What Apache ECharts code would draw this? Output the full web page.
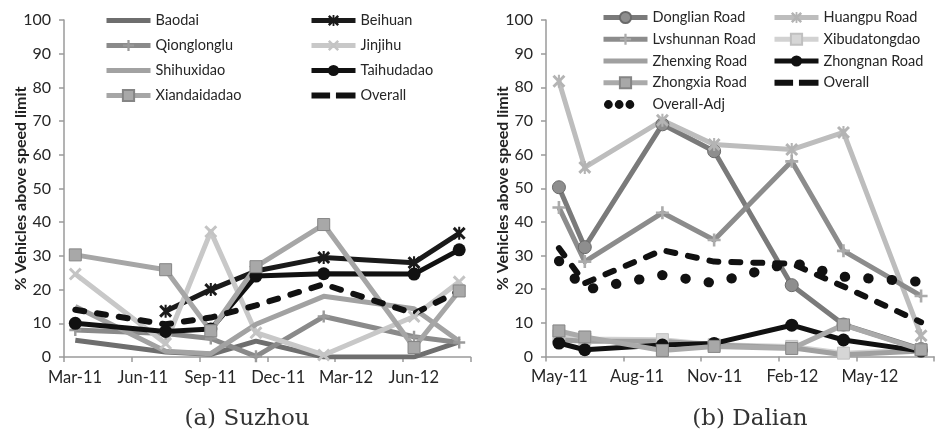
<!DOCTYPE html>
<html><head><meta charset="utf-8">
<script src="https://cdn.jsdelivr.net/npm/echarts@6/dist/echarts.min.js"></script>
<style>html,body{margin:0;padding:0;background:#fff}#c{width:937px;height:441px}</style>
</head><body><div id="c"></div>
<script>
// ---------- Suzhou (a) ----------
const suzhouBase = '2011-03';
const suzhouDates = ['2011-03','2011-07','2011-09','2011-11','2012-02','2012-06','2012-08'];
const suzhouTicks = ['Mar-11','Jun-11','Sep-11','Dec-11','Mar-12','Jun-12'];
const baodai       = [5, 1.5, 0.8, 4.7, 0, 0, 4.5];
const beihuan      = [null, 13.6, 20, 25.5, 29.5, 28, 36.7];
const qionglonglu  = [8, 7, 5.5, 0.2, 12, 6, 4.3];
const jinjihu      = [24.6, 4, 37.2, 7.2, 0.6, 12, 22.3];
const shihuxidao   = [15, 1.7, 1, 9.7, 18, 14.3, 4.7];
const taihudadao   = [10, 7.6, 8.3, 24, 24.7, 24.6, 31.8];
const xiandaidadao = [30.3, 25.9, 7.8, 26.8, 39.3, 2.8, 19.6];
const suzhouOverall= [14, 9.7, 11.7, 15.3, 21.6, 12.9, 19.6];

// ---------- Dalian (b) ----------
const dalianBase = '2011-05';
const dalianDates = ['2011-05','2011-06','2011-09','2011-11','2012-02','2012-04','2012-07'];
const dalianTicks = ['May-11','Aug-11','Nov-11','Feb-12','May-12'];
const donglian      = [50.3, 32.5, 69, 61, 21.2, 9.5, 2.2];
const huangpu       = [81.8, 56.2, 70.2, 63, 61.5, 66.6, 6.2];
const lvshunnan     = [44.3, 28.2, 42.7, 34.6, 58, 31.4, 18];
const xibudatongdao = [6.2, 5.2, 5, 3.5, 3, 1, 2];
const zhenxing      = [5, 4.5, 4.5, 3.4, 2.6, 0.5, 1.6];
const zhongnan      = [4, 2, 3.4, 3.9, 9.3, 4.9, 1.6];
const zhongxia      = [7.6, 5.8, 1.8, 3, 2.4, 9.4, 2];
const dalianOverall = [32.2, 21.8, 31.6, 28.2, 27.6, 20.8, 10.2];
const dalianAdj     = [28.4, 19.8, 24.2, 21.8, 28, 23.7, 22.2];

const yTitle = '% Vehicles above speed limit';

function mIdx(d, base){
  const [y,m] = d.split('-').map(Number);
  const [by,bm] = base.split('-').map(Number);
  return (y-by)*12 + (m-bm) + 0.5;
}
const SYM_X = 'path://M0,1.6L1.6,0L5,3.4L8.4,0L10,1.6L6.6,5L10,8.4L8.4,10L5,6.6L1.6,10L0,8.4L3.4,5Z';
const SYM_STAR = SYM_X + 'M4.2,0H5.8V10H4.2Z';
const SYM_PLUS = 'path://M4,0H6V4H10V6H6V10H4V6H0V4H4Z';
// legend icons (box 45x14 fixed by two tiny corner specks)
const BOX = 'M0,0L0.05,0L0,0.05Z M45,14L44.95,14L45,13.95Z ';
const ICON_LINE = 'path://' + BOX + 'M0,4.5H45V9.5H0Z';
const ICON_DASH = 'path://' + BOX + 'M0,4H19V10H0Z M25,4H45V10H25Z';
const ICON_DOT  = 'path://' + BOX +
  'M0.5,7a4.5,4.5 0 1,0 9,0a4.5,4.5 0 1,0 -9,0Z M11.5,7a4.5,4.5 0 1,0 9,0a4.5,4.5 0 1,0 -9,0Z M22.5,7a4.5,4.5 0 1,0 9,0a4.5,4.5 0 1,0 -9,0Z';

function mk(name, dates, base, vals, gi, o){
  return {
    name, type:'line', xAxisIndex:gi, yAxisIndex:gi,
    data: dates.map((d,i)=>[mIdx(d,base), vals[i]]),
    symbol: o.symbol || 'none', symbolSize: o.size || 12, showSymbol: !!o.symbol,
    lineStyle:{color:o.line, width:o.width||5, type:o.type||'solid', cap:o.cap||'butt', join:'round'},
    itemStyle:{color:o.fill||o.line, borderColor:o.border||o.fill||o.line, borderWidth:o.bw||0},
    connectNulls:false, silent:true, z: o.z || 2
  };
}
const DASH = {type:[9,13], cap:'round', width:6};
const DOT  = {type:[0.5,23], cap:'round', width:10};

const font = 'Lato';
const txt = '#262626';
function xAx(gi, ticks, max){
  return {type:'value', gridIndex:gi, min:0, max:max, interval:3,
    axisLine:{lineStyle:{color:'#9a9a9a', width:1.5}},
    axisTick:{show:true, length:5, lineStyle:{color:'#9a9a9a', width:1.5}},
    splitLine:{show:false},
    axisLabel:{fontFamily:font, fontSize:16.5, color:txt, margin:12, padding:[0,0,0,gi===0?22:27],
      formatter:v=>{const k=Math.round(v/3); return (Math.abs(v-k*3)<1e-6 && ticks[k]!==undefined)? ticks[k] : '';}}
  };
}
function yAx(gi){
  return {type:'value', gridIndex:gi, min:0, max:100, interval:10,
    axisLine:{show:true, lineStyle:{color:'#9a9a9a', width:1.5}},
    axisTick:{show:true, length:5, lineStyle:{color:'#9a9a9a', width:1.5}},
    splitLine:{show:false},
    axisLabel:{fontFamily:font, fontSize:16, color:txt, margin:13},
    name:yTitle, nameLocation:'middle', nameGap:35, nameMoveOverlap:false,
    nameTextStyle:{fontFamily:font, fontSize:16, fontWeight:'bold', color:'#222'}
  };
}
const iconOf = {
  'Baodai':ICON_LINE, 'Shihuxidao':ICON_LINE, 'Zhenxing Road':ICON_LINE,
  'Overall':ICON_DASH, 'Overall-Adj':ICON_DOT
};
function lg(left, top, gap, names, w){
  return {left, top, orient:'vertical', itemWidth:w||44, itemHeight:14, itemGap:gap,
    selectedMode:false, lineStyle:{width:5},
    data: names.map(n => iconOf[n] ? {name:n, icon:iconOf[n]} : {name:n}),
    textStyle:{fontFamily:font, fontSize:14.5, lineHeight:14, color:txt}};
}

const S = suzhouDates, D = dalianDates;
const series = [
  mk('Baodai', S, suzhouBase, baodai, 0, {line:'#6e6e6e'}),
  mk('Beihuan', S, suzhouBase, beihuan, 0, {line:'#1a1a1a', symbol:SYM_STAR, size:13}),
  mk('Qionglonglu', S, suzhouBase, qionglonglu, 0, {line:'#8a8a8a', symbol:SYM_PLUS, size:12, fill:'#9a9a9a'}),
  mk('Jinjihu', S, suzhouBase, jinjihu, 0, {line:'#c8c8c8', symbol:SYM_X, size:13, fill:'#c4c4c4'}),
  mk('Shihuxidao', S, suzhouBase, shihuxidao, 0, {line:'#a2a2a2'}),
  mk('Taihudadao', S, suzhouBase, taihudadao, 0, {line:'#111', symbol:'circle', size:13}),
  mk('Xiandaidadao', S, suzhouBase, xiandaidadao, 0, {line:'#a6a6a6', symbol:'rect', size:12, fill:'#a8a8a8', border:'#858585', bw:1}),
  mk('Overall', S, suzhouBase, suzhouOverall, 0, Object.assign({line:'#111'}, DASH)),

  mk('Donglian Road', D, dalianBase, donglian, 1, {line:'#7a7a7a', symbol:'circle', size:13, fill:'#8e8e8e', border:'#6a6a6a', bw:1}),
  mk('Huangpu Road', D, dalianBase, huangpu, 1, {line:'#bdbdbd', symbol:SYM_STAR, size:13, fill:'#b4b4b4'}),
  mk('Lvshunnan Road', D, dalianBase, lvshunnan, 1, {line:'#8c8c8c', symbol:SYM_PLUS, size:13, fill:'#ababab'}),
  mk('Xibudatongdao', D, dalianBase, xibudatongdao, 1, {line:'#d2d2d2', symbol:'rect', size:12, fill:'#d6d6d6', border:'#c0c0c0', bw:1}),
  mk('Zhenxing Road', D, dalianBase, zhenxing, 1, {line:'#a0a0a0'}),
  mk('Zhongnan Road', D, dalianBase, zhongnan, 1, {line:'#111', symbol:'circle', size:13}),
  mk('Zhongxia Road', D, dalianBase, zhongxia, 1, {line:'#aaaaaa', symbol:'rect', size:12, fill:'#a8a8a8', border:'#858585', bw:1}),
  mk('Overall', D, dalianBase, dalianOverall, 1, Object.assign({line:'#111'}, DASH)),
  mk('Overall-Adj', D, dalianBase, dalianAdj, 1, Object.assign({line:'#111'}, DOT)),
];

const chart = echarts.init(document.getElementById('c'), null, {renderer:'canvas'});
chart.setOption({
  animation:false,
  backgroundColor:'#fff',
  grid:[
    {left:64, top:20, width:406.5, height:337},
    {left:546, top:20, width:400, height:336.5}
  ],
  xAxis:[xAx(0, suzhouTicks, 18), xAx(1, dalianTicks, 15)],
  yAxis:[yAx(0), yAx(1)],
  legend:[
    lg(99, 8, 10, ['Baodai','Qionglonglu','Shihuxidao','Xiandaidadao']),
    lg(304, 8, 10, ['Beihuan','Jinjihu','Taihudadao','Overall']),
    lg(596, 5, 6.75, ['Donglian Road','Lvshunnan Road','Zhenxing Road','Zhongxia Road','Overall-Adj']),
    lg(767, 5, 6.75, ['Huangpu Road','Xibudatongdao','Zhongnan Road','Overall'])
  ],
  series,
  graphic:[
    {type:'text', style:{text:'(a) Suzhou', x:247, y:419, align:'center', verticalAlign:'middle', font:'23px "DejaVu Serif"', fill:'#333'}},
    {type:'text', style:{text:'(b) Dalian', x:750, y:419, align:'center', verticalAlign:'middle', font:'23px "DejaVu Serif"', fill:'#333'}}
  ]
});
</script></body></html>
